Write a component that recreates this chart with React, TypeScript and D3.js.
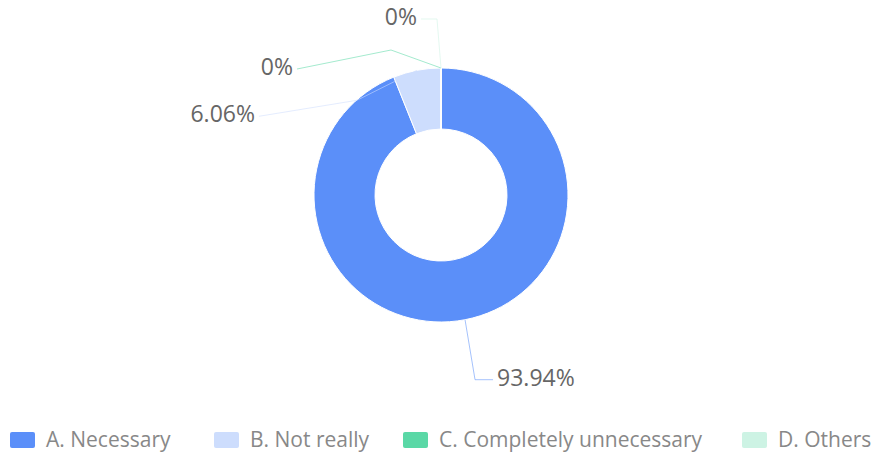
import React from "react";
import * as d3 from "d3";

const categories = ["A. Necessary", "B. Not really", "C. Completely unnecessary", "D. Others"];
const values = [93.94, 6.06, 0, 0];
const valueLabels = ["93.94%", "6.06%", "0%", "0%"];
const colors = ["#5B8FF9", "#CDDDFD", "#5AD8A6", "#CDF3E4"];

const W = 877;
const H = 458;
const cx = 441;
const cy = 195;
const outerR = 127;
const innerR = 66;

// label layout offsets (relative to the slice's outer-edge mid point)
const labelLayout = [
  { elbow: [10, 60], end: [28, 60], anchor: "start" },
  { elbow: [-60, 30], end: [-158, 46], anchor: "end" },
  { elbow: [-50, -18], end: [-144, 1], anchor: "end" },
  { elbow: [-4, -49], end: [-20, -49], anchor: "end" },
];

const legendX = [10, 214, 403, 742];

export default function App() {
  const pie = d3
    .pie<number>()
    .value((d) => d)
    .sort(null)
    .startAngle(0)
    .endAngle(Math.PI * 2);
  const arcs = pie(values);
  const arcGen = d3
    .arc<d3.PieArcDatum<number>>()
    .innerRadius(innerR)
    .outerRadius(outerR);

  return (
    <svg width={W} height={H} style={{ position: "absolute", left: 0, top: 0 }}>
      <rect width={W} height={H} fill="#fff" />
      <g transform={`translate(${cx},${cy})`}>
        {arcs.map((a, i) => (
          <path key={i} d={arcGen(a) || ""} fill={colors[i]} stroke="#fff" strokeWidth={1} />
        ))}
        {arcs.map((a, i) => {
          const mid = (a.startAngle + a.endAngle) / 2;
          const px = Math.sin(mid) * outerR;
          const py = -Math.cos(mid) * outerR;
          const L = labelLayout[i];
          const ex = px + L.elbow[0];
          const ey = py + L.elbow[1];
          const tx = px + L.end[0];
          const ty = py + L.end[1];
          return (
            <g key={"l" + i}>
              <polyline
                points={`${px},${py} ${ex},${ey} ${tx},${ty}`}
                fill="none"
                stroke={colors[i]}
                strokeOpacity={0.55}
                strokeWidth={1}
              />
              <text
                x={tx + (L.anchor === "start" ? 4 : -4)}
                y={ty}
                textAnchor={L.anchor as any}
                dominantBaseline="middle"
                fontFamily="'Open Sans', 'Noto Sans', sans-serif"
                fontSize={23}
                fill="#666"
              >
                {valueLabels[i]}
              </text>
            </g>
          );
        })}
      </g>
      <g>
        {categories.map((c, i) => (
          <g key={c} transform={`translate(${legendX[i]},440)`}>
            <rect x={0} y={-8} width={25} height={16} rx={2} fill={colors[i]} />
            <text
              x={36}
              y={1}
              dominantBaseline="middle"
              fontFamily="'Open Sans', 'Noto Sans', sans-serif"
              fontSize={21}
              fill="#888"
            >
              {c}
            </text>
          </g>
        ))}
      </g>
    </svg>
  );
}
